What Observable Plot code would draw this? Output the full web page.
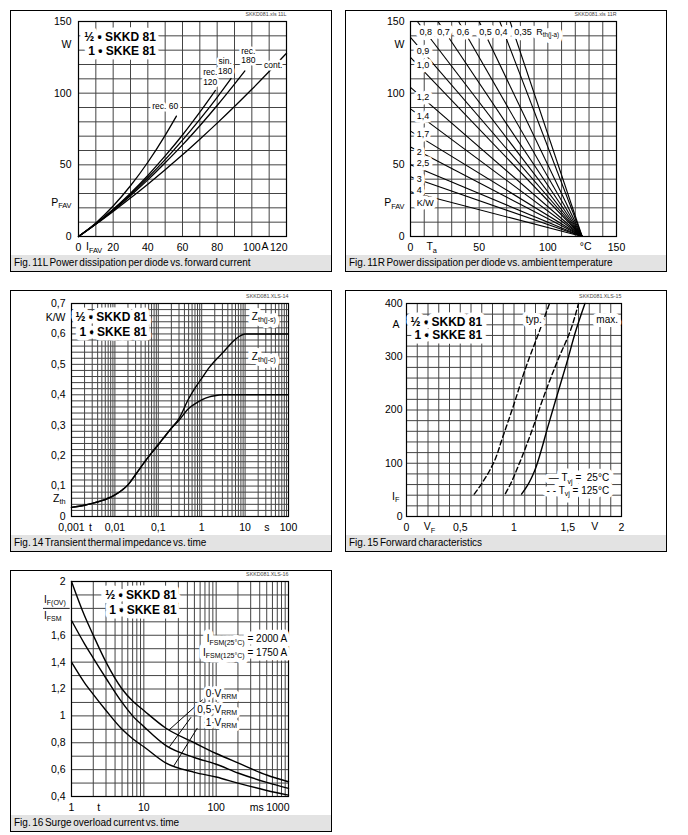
<!DOCTYPE html>
<html><head><meta charset="utf-8">
<script src="https://cdn.jsdelivr.net/npm/d3@7"></script>
<script src="https://cdn.jsdelivr.net/npm/@observablehq/plot@0.6"></script>
<style>
body{margin:0;background:#fff;font-family:"Liberation Sans",Arial,Helvetica,sans-serif;}
.panel{position:absolute;width:320px;height:260px;border:1px solid #000;background:#fff;overflow:hidden;}
.panel svg{display:block;}
.panel svg text{stroke-linejoin:round;}
.cap{position:absolute;left:0;right:0;bottom:0;height:16px;background:#e3e3e3;font-size:10px;line-height:16px;padding-left:3px;word-spacing:-1.2px;white-space:nowrap;color:#000;}
</style></head>
<body>
<div class="panel" id="p11L" style="left:10px;top:10px"></div>
<div class="panel" id="p11R" style="left:345px;top:10px"></div>
<div class="panel" id="p14" style="left:10px;top:290px"></div>
<div class="panel" id="p15" style="left:345px;top:290px"></div>
<div class="panel" id="p16" style="left:10px;top:570px"></div>
<script>
// ---------------- data ----------------
const legendLines = ["½ • SKKD 81", "1 • SKKE 81"];

// Fig. 11L  power dissipation vs forward current
const modes11L = ["rec. 60", "rec. 120", "sin. 180", "rec. 180", "cont."];
const current11L = [
  [0, 10, 20, 30, 40, 50, 56.5],
  [0, 10, 20, 30, 40, 50, 60, 70, 79],
  [0, 10, 20, 30, 40, 50, 60, 70, 80, 88],
  [0, 10, 20, 30, 40, 50, 60, 70, 80, 90, 96],
  [0, 10, 20, 30, 40, 50, 60, 70, 80, 90, 100, 110, 120]];
const power11L = [
  [0, 9.5, 21.3, 35.4, 51.8, 70.6, 84],
  [0, 8.9, 19.0, 30.2, 42.6, 56.2, 70.8, 86.7, 101.9],
  [0, 8.8, 18.6, 29.3, 41.0, 53.6, 67.2, 81.7, 97.1, 110.2],
  [0, 8.7, 18.2, 28.5, 39.5, 51.4, 63.9, 77.3, 91.4, 106.3, 115.5],
  [0, 8.5, 17.5, 26.8, 36.5, 46.6, 57.0, 67.9, 79.1, 90.7, 102.7, 115.1, 127.8]];
const modeLabels11L = ["rec. 60", "rec.\n120", "sin.\n180", "rec.\n180", "cont."];
const modeLabelI11L = [50, 76, 84.6, 98, 112.3];
const modeLabelP11L = [91, 111.4, 118.8, 126.3, 119.8];
const xTicks11L = [0, 20, 40, 60, 80, 100, 120];
const xTickLabels11L = ["0", "20", "40", "60", "80", "100", "120"];
const yTicks11L = [0, 50, 100, 150];
const yTickLabels11L = ["0", "50", "100", "150"];

// Fig. 11R  power dissipation vs ambient temperature
const rth11R = ["0,35", "0,4", "0,5", "0,6", "0,7", "0,8", "0,9", "1,0", "1,2", "1,4", "1,7", "2", "2,5", "3", "4"];
const startTa11R = [72.5, 65, 50, 35, 20, 5, 0, 0, 0, 0, 0, 0, 0, 0, 0];
const startP11R = [150, 150, 150, 150, 150, 150, 139, 125, 104, 89, 73.5, 62.5, 50, 41.7, 31.2];
const endTa11R = 125;
const topLabels11R = ["0,8", "0,7", "0,6", "0,5", "0,4", "0,35", "R_{th(j-a)}"];
const topLabelTa11R = [6.6, 19.5, 33.7, 50, 61.5, 75.6, 91.5];
const leftLabels11R = ["0,9", "1,0", "1,2", "1,4", "1,7", "2", "2,5", "3", "4", "K/W"];
const leftLabelP11R = [129.5, 119.8, 97, 83.7, 71.4, 58.8, 51.2, 40.2, 32.6, 23.3];
const xTicks11R = [0, 50, 100, 150];
const yTicks11R = [0, 50, 100, 150];

// Fig. 14  transient thermal impedance
const t14 = [0.001, 0.002, 0.003, 0.005, 0.007, 0.01, 0.015, 0.02, 0.03, 0.05, 0.07, 0.1, 0.15, 0.2, 0.3, 0.5, 0.7, 1, 1.5, 2, 3, 5, 7, 10, 20, 50, 100];
const zthJS14 = [0.03, 0.037, 0.043, 0.052, 0.06, 0.071, 0.088, 0.104, 0.138, 0.182, 0.209, 0.236, 0.268, 0.29, 0.322, 0.387, 0.422, 0.454, 0.49, 0.511, 0.537, 0.572, 0.59, 0.6, 0.6, 0.6, 0.6];
const zthJC14 = [0.03, 0.037, 0.043, 0.052, 0.06, 0.071, 0.088, 0.104, 0.138, 0.182, 0.209, 0.236, 0.268, 0.29, 0.316, 0.355, 0.37, 0.383, 0.393, 0.397, 0.4, 0.4, 0.4, 0.4, 0.4, 0.4, 0.4];
const xTicks14 = [0.001, 0.01, 0.1, 1, 10, 100];
const xTickLabels14 = ["0,001", "0,01", "0,1", "1", "10", "100"];
const yTicks14 = [0, 0.1, 0.2, 0.3, 0.4, 0.5, 0.6, 0.7];
const yTickLabels14 = ["0", "0,1", "0,2", "0,3", "0,4", "0,5", "0,6", "0,7"];

// Fig. 15  forward characteristics
const vTyp125 = [0.63, 0.70, 0.77, 0.83, 0.88, 0.99, 1.11, 1.24, 1.33];
const iTyp125 = [42, 62, 85, 110, 140, 205, 280, 350, 400];
const vMax125 = [0.92, 0.97, 1.03, 1.09, 1.15, 1.28, 1.40, 1.53, 1.60];
const iMax125 = [43, 62, 90, 120, 152, 227, 290, 352, 400];
const vMax25 = [1.07, 1.13, 1.19, 1.25, 1.31, 1.40, 1.49, 1.58, 1.66];
const iMax25 = [42, 60, 85, 122, 165, 227, 288, 352, 400];
const xTicks15 = [0, 0.5, 1, 1.5, 2];
const xTickLabels15 = ["0", "0,5", "1", "1,5", "2"];
const yTicks15 = [0, 100, 200, 300, 400];

// Fig. 16  surge overload current
const t16 = [1, 1.5, 2, 3, 5, 7, 10, 20, 50, 100, 200, 500, 1000];
const k0V16 = [2.0, 1.75, 1.60, 1.40, 1.20, 1.11, 1.04, 0.91, 0.80, 0.72, 0.65, 0.56, 0.51];
const k05V16 = [1.71, 1.54, 1.43, 1.28, 1.10, 1.0, 0.92, 0.78, 0.69, 0.64, 0.575, 0.505, 0.46];
const k1V16 = [1.40, 1.25, 1.16, 1.04, 0.90, 0.83, 0.77, 0.65, 0.58, 0.545, 0.50, 0.445, 0.41];
const curveLabels16 = ["0·V_{RRM}", "0,5·V_{RRM}", "1·V_{RRM}"];
const curveLabelK16 = [1.164, 1.045, 0.95];
const ptrFromT16 = [65, 45, 55], ptrFromK16 = [1.12, 0.99, 0.91];
const ptrToT16 = [22.3, 22.6, 26], ptrToK16 = [0.895, 0.77, 0.628];
const xTicks16 = [1, 10, 100, 1000];
const yTicks16 = [0.4, 0.6, 0.8, 1, 1.2, 1.4, 1.6, 2];
const yTickLabels16 = ["0,4", "0,6", "0,8", "1", "1,2", "1,4", "1,6", "2"];

// ---------------- helpers ----------------
const FONT = "'Liberation Sans', Arial, Helvetica, sans-serif";
const GRID = "#444";
const common = {width: 320, height: 244, style: {fontFamily: FONT, background: "#fff", color: "#000"}};
const pts = (xs, ys) => xs.map((x, i) => ({x, y: ys[i]}));
const lab = (vs, ts) => vs.map((v, i) => ({v, t: ts[i]}));
const logGrid = (from, to) => { const a = []; for (let d = from; d < to * 0.999; d *= 10) for (let k = 1; k < 10; k++) a.push(d * k); a.push(to); return a; };

// text with a white backing (drawn as a separate layer so subscripts are not overpainted)
function txt(data, opts, halo = 0) {
  const o = {fill: "#000", lineAnchor: "middle", ...opts};
  if (!halo) return [Plot.text(data, o)];
  return [Plot.text(data, {...o, fill: "#fff", stroke: "#fff", strokeWidth: halo}), Plot.text(data, o)];
}
function xLabels(data, {lastEnd = false, dy = 11.5} = {}) {
  const o = {x: "v", text: "t", frameAnchor: "bottom", dy, fontSize: 10.5};
  if (!lastEnd) return txt(data, o);
  return [...txt(data.slice(0, -1), o), ...txt(data.slice(-1), {...o, textAnchor: "end", dx: 1})];
}
function yLabels(data, dx = -6, extra = {}) {
  return txt(data, {y: "v", text: "t", frameAnchor: "left", textAnchor: "end", dx, fontSize: 10.5, ...extra});
}
function idLabel(s) {
  return txt([s], {text: d => d, frameAnchor: "top-right", textAnchor: "end", dy: -7, fontSize: 5.3, fill: "#444"});
}
function legend(x, ys) {
  return txt(legendLines.map((t, i) => ({t, x, y: ys[i]})), {x: "x", y: "y", text: "t", textAnchor: "end", fontWeight: "bold", fontSize: 12}, 9);
}
function subify(svg) {
  const NS = "http://www.w3.org/2000/svg";
  svg.querySelectorAll("text").forEach(t => {
    if (t.querySelector("tspan")) return;
    const s = t.textContent;
    if (!s.includes("_{")) return;
    t.textContent = "";
    const re = /_\{([^}]*)\}/g; let last = 0, m, prevSub = false;
    const add = (str, sub) => {
      if (!str) return;
      const ts = document.createElementNS(NS, "tspan");
      ts.textContent = str;
      if (sub) { ts.style.fontSize = "70%"; if (!prevSub) ts.setAttribute("dy", "0.3em"); }
      else if (prevSub) ts.setAttribute("dy", "-0.21em");
      t.appendChild(ts); prevSub = sub;
    };
    while ((m = re.exec(s))) { add(s.slice(last, m.index), false); add(m[1], true); last = re.lastIndex; }
    add(s.slice(last), false);
  });
}
function mount(id, svg, caption) {
  const el = document.getElementById(id);
  el.appendChild(svg);
  subify(svg);
  const c = document.createElement("div");
  c.className = "cap"; c.textContent = caption;
  el.appendChild(c);
}
const thin = {stroke: GRID, strokeWidth: 1};
const frame = () => Plot.frame({stroke: "#000", strokeWidth: 1.2});

// ---------------- Fig 11L ----------------
mount("p11L", Plot.plot({
  ...common, marginLeft: 67, marginRight: 45, marginTop: 10, marginBottom: 19,
  x: {domain: [0, 120], axis: null}, y: {domain: [0, 150], axis: null},
  marks: [
    Plot.ruleX(d3.range(0, 121, 10), thin),
    Plot.ruleY(d3.range(0, 151, 10), thin),
    frame(),
    ...modes11L.map((m, i) => Plot.line(pts(current11L[i], power11L[i]), {x: "x", y: "y", stroke: "#000", strokeWidth: 1.3, curve: "monotone-x"})),
    ...txt(modeLabels11L.map((t, i) => ({t, x: modeLabelI11L[i], y: modeLabelP11L[i]})), {x: "x", y: "y", text: "t", fontSize: 8.5, lineHeight: 1.15}, 5),
    ...legend(44.6, [138.8, 129]),
    ...xLabels(lab(xTicks11L, xTickLabels11L), {lastEnd: true}),
    ...xLabels(lab([9, 107.6], ["I_{FAV}", "A"]), {dy: 10.5}),
    ...yLabels(lab(yTicks11L, yTickLabels11L), -7),
    ...yLabels(lab([133.7, 23.7], ["W", "P_{FAV}"]), -7),
    ...idLabel("SKKD081.xls 11L")
  ]
}), "Fig. 11L Power dissipation per diode vs. forward current");

// ---------------- Fig 11R ----------------
mount("p11R", Plot.plot({
  ...common, marginLeft: 64, marginRight: 50, marginTop: 10, marginBottom: 19,
  x: {domain: [0, 150], axis: null}, y: {domain: [0, 150], axis: null},
  marks: [
    Plot.ruleX(d3.range(0, 151, 10), thin),
    Plot.ruleY(d3.range(0, 151, 10), thin),
    frame(),
    Plot.link(rth11R.map((r, i) => ({r, x1: startTa11R[i], y1: startP11R[i], x2: endTa11R, y2: 0})), {x1: "x1", y1: "y1", x2: "x2", y2: "y2", stroke: "#000", strokeWidth: 1.1}),
    ...txt(topLabels11R.map((t, i) => ({t, x: topLabelTa11R[i], y: 142.6})), {x: "x", y: "y", text: "t", textAnchor: "start", fontSize: 9}, 8),
    ...txt(leftLabels11R.map((t, i) => ({t, x: 4.5, y: leftLabelP11R[i]})), {x: "x", y: "y", text: "t", textAnchor: "start", fontSize: 9}, 7),
    ...xLabels(lab(xTicks11R, ["0", "50", "100", "150"])),
    ...xLabels(lab([15.4, 127.6], ["T_{a}", "°C"]), {dy: 10.5}),
    ...yLabels(lab(yTicks11R, ["0", "50", "100", "150"]), -6),
    ...yLabels(lab([133.7, 23.3], ["W", "P_{FAV}"]), -6),
    ...idLabel("SKKD081.xls 11R")
  ]
}), "Fig. 11R Power dissipation per diode vs. ambient temperature");

// ---------------- Fig 14 ----------------
mount("p14", Plot.plot({
  ...common, marginLeft: 60, marginRight: 43, marginTop: 12, marginBottom: 19,
  x: {type: "log", domain: [0.001, 100], axis: null}, y: {domain: [0, 0.7], axis: null},
  marks: [
    Plot.ruleX(logGrid(0.001, 100), thin),
    Plot.ruleY(d3.range(0, 36).map(i => i * 0.02), thin),
    frame(),
    Plot.line(pts(t14, zthJS14), {x: "x", y: "y", stroke: "#000", strokeWidth: 1.4, curve: "monotone-x"}),
    Plot.line(pts(t14, zthJC14), {x: "x", y: "y", stroke: "#000", strokeWidth: 1.4, curve: "monotone-x"}),
    ...txt([{t: "Z_{th(j-s)}", x: 27, y: 0.656}, {t: "Z_{th(j-c)}", x: 27, y: 0.525}], {x: "x", y: "y", text: "t", fontSize: 10}, 8),
    ...legend(0.055, [0.656, 0.607]),
    ...xLabels(lab(xTicks14, xTickLabels14)),
    ...xLabels(lab([0.00274, 31.6], ["t", "s"])),
    ...yLabels(lab(yTicks14, yTickLabels14), -6),
    ...yLabels(lab([0.653, 0.06], ["K/W", "Z_{th}"]), -6),
    ...idLabel("SKKD081.XLS-14")
  ]
}), "Fig. 14 Transient thermal impedance vs. time");

// ---------------- Fig 15 ----------------
mount("p15", Plot.plot({
  ...common, marginLeft: 60, marginRight: 45, marginTop: 12, marginBottom: 19,
  x: {domain: [0, 2], axis: null}, y: {domain: [0, 400], axis: null},
  marks: [
    Plot.ruleX(d3.range(0, 21).map(i => i * 0.1), thin),
    Plot.ruleY(d3.range(0, 401, 20), thin),
    frame(),
    Plot.line(pts(vTyp125, iTyp125), {x: "x", y: "y", stroke: "#000", strokeWidth: 1.4, strokeDasharray: "5,3", curve: "monotone-y"}),
    Plot.line(pts(vMax125, iMax125), {x: "x", y: "y", stroke: "#000", strokeWidth: 1.4, strokeDasharray: "5,3", curve: "monotone-y"}),
    Plot.line(pts(vMax25, iMax25), {x: "x", y: "y", stroke: "#000", strokeWidth: 1.4, curve: "monotone-y"}),
    ...txt([{t: "typ.", x: 1.184, y: 368.75}, {t: "max.", x: 1.867, y: 368.75}], {x: "x", y: "y", text: "t", fontSize: 10}, 8),
    ...txt([{t: "— T_{vj} =  25°C", y: 71.9}, {t: "- - T_{vj} = 125°C", y: 48}], {x: () => 1.885, y: "y", text: "t", textAnchor: "end", fontSize: 10}, 9),
    ...legend(0.704, [365.6, 340.6]),
    ...xLabels(lab(xTicks15, xTickLabels15)),
    ...xLabels(lab([0.214, 1.75], ["V_{F}", "V"]), {dy: 10.5}),
    ...yLabels(lab(yTicks15, ["0", "100", "200", "300", "400"]), -4),
    ...yLabels(lab([360.6, 37.5], ["A", "I_{F}"]), -7),
    ...idLabel("SKKD081.XLS-15")
  ]
}), "Fig. 15 Forward characteristics");

// ---------------- Fig 16 ----------------
mount("p16", Plot.plot({
  ...common, marginLeft: 60, marginRight: 43, marginTop: 10, marginBottom: 19,
  x: {type: "log", domain: [1, 1000], axis: null}, y: {domain: [0.4, 2], axis: null},
  marks: [
    Plot.ruleX(logGrid(1, 1000), thin),
    Plot.ruleY(d3.range(4, 21).map(i => i / 10), thin),
    frame(),
    Plot.line(pts(t16, k0V16), {x: "x", y: "y", stroke: "#000", strokeWidth: 1.4, curve: "monotone-x"}),
    Plot.line(pts(t16, k05V16), {x: "x", y: "y", stroke: "#000", strokeWidth: 1.4, curve: "monotone-x"}),
    Plot.line(pts(t16, k1V16), {x: "x", y: "y", stroke: "#000", strokeWidth: 1.4, curve: "monotone-x"}),
    Plot.link(ptrFromT16.map((t, i) => ({x1: t, y1: ptrFromK16[i], x2: ptrToT16[i], y2: ptrToK16[i]})), {x1: "x1", y1: "y1", x2: "x2", y2: "y2", stroke: "#000", strokeWidth: 1}),
    ...txt(curveLabels16.map((t, i) => ({t, y: curveLabelK16[i]})), {x: () => 195, y: "y", text: "t", textAnchor: "end", fontSize: 10}, 6),
    ...txt([{t: "I_{FSM(25°C)} = 2000 A", y: 1.57}, {t: "I_{FSM(125°C)} = 1750 A", y: 1.469}], {x: () => 960, y: "y", text: "t", textAnchor: "end", fontSize: 10}, 9),
    ...legend(28.5, [1.90, 1.788]),
    ...xLabels(lab(xTicks16, ["1", "10", "100", "1000"]), {lastEnd: true}),
    ...xLabels(lab([2.38, 365], ["t", "ms"])),
    ...yLabels(lab(yTicks16, yTickLabels16), -6),
    ...txt([{t: "I_{F(OV)}", y: 1.865}, {t: "I_{FSM}", y: 1.745}], {y: "y", text: "t", frameAnchor: "left", textAnchor: "start", dx: -27.5, fontSize: 10}),
    Plot.ruleY([1.8], {x1: 0.41, x2: 0.96, stroke: "#000", strokeWidth: 0.9}),
    ...idLabel("SKKD081.XLS-16")
  ]
}), "Fig. 16 Surge overload current vs. time");
</script>
</body></html>
